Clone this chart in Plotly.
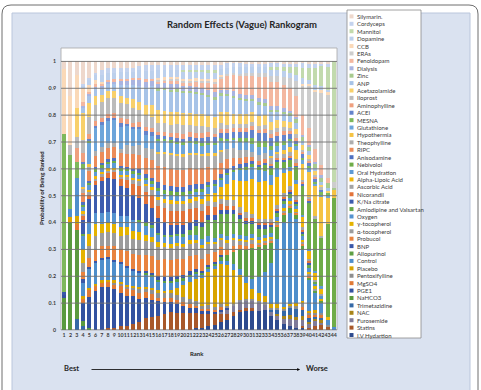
import plotly.graph_objects as go

# ---------------- data (estimated, % share per rank 1..44) ----------------
ranks = list(range(1, 45))
rank_labels = [str(r) for r in ranks]
y_tick_vals = [0, 0.1, 0.2, 0.3, 0.4, 0.5, 0.6, 0.7, 0.8, 0.9, 1.0]
y_tick_text = ["0", "0.1", "0.2", "0.3", "0.4", "0.5", "0.6", "0.7", "0.8", "0.9", "1"]

iv_hydartion = [0,0,0,0,0,0,0,0,0,0, 0,0,0,0,0,0,0,0,0,0, 0,1,1,2,3,4,5,7,9,10, 10,10,10,7,5,3,2,1,1,0, 0,0,0,0]
statins = [0,0,0,0,0,0,0,1,1,2, 2,3,4,6,7,8,9,10,10,10, 10,9,8,7,6,5,3,2,1,1, 1,0,0,0,0,0,0,0,1,1, 2,2,1,0]
furosemide = [0,0,0,0,0,0,0,0,0,0, 0,0,0,0,0,0,0,0,0,0, 0,0,0,0,0,1,2,3,4,4, 4,4,3,2,2,3,4,4,3,2, 2,1,0,0]
nac = [0,0,0,0,0,0,0,0,0,0, 0,0,0,0,0,0,0,0,0,0, 0,0,0,0,0,0,0,0,0,0, 0,0,0,0,1,1,2,2,2,1, 1,1,0,0]
trimetazidine = [0,0,4,2,0,0,0,0,0,0, 0,0,0,0,0,0,0,0,0,0, 0,0,0,0,0,0,0,0,0,0, 0,0,0,1,2,3,4,4,3,2, 1,1,0,0]
nahco3 = [12,40,33,2,1,0,0,0,0,0, 0,0,0,0,0,0,0,0,0,0, 0,0,0,0,0,0,0,0,0,0, 0,0,0,0,0,0,0,0,0,0, 0,0,0,0]
pge1 = [1,0,0,8,13,17,19,18,17,15, 14,13,11,10,9,8,7,6,5,4, 3,3,2,2,1,1,1,0,0,0, 0,0,0,0,0,0,0,0,0,0, 0,0,0,0]
mgso4 = [0,0,2,2,3,2,2,2,2,3, 3,3,3,3,3,2,2,2,2,2, 2,1,1,1,1,1,0,0,0,0, 0,0,0,0,0,0,0,0,1,1, 1,1,0,0]
pentoxifylline = [0,0,0,0,0,0,0,0,1,1, 1,1,2,2,2,3,3,3,3,3, 3,3,2,2,2,2,1,1,1,1, 1,1,1,1,1,1,1,2,2,1, 1,1,1,0]
placebo = [0,2,3,1,1,1,1,1,1,1, 1,1,1,1,1,1,1,2,4,7, 10,13,16,19,21,21,20,17,12,8, 5,4,3,2,2,1,1,1,1,1, 1,0,0,0]
control = [0,3,8,6,8,9,9,9,8,8, 8,7,7,6,6,5,5,4,4,3, 3,3,2,2,2,2,2,3,3,3, 5,8,12,20,32,44,48,44,25,15, 8,4,2,1]
allopurinol = [0,0,0,0,0,0,0,0,0,0, 0,0,0,1,1,1,1,1,1,1, 1,1,1,1,1,2,3,6,10,14, 16,16,14,10,6,4,3,2,2,1, 1,1,0,0]
bnp = [1,0,0,2,1,1,1,1,1,1, 1,1,1,1,1,2,2,2,2,2, 2,2,1,1,1,1,0,0,0,0, 0,0,0,0,0,0,0,0,0,0, 0,0,0,0]
probucol = [0,0,0,3,4,5,5,5,6,6, 7,7,8,8,9,9,10,10,10,9, 9,8,7,6,5,4,3,3,2,2, 2,1,1,1,1,1,1,1,1,1, 0,0,0,0]
alpha_tocopherol = [0,0,0,4,5,6,6,6,6,6, 7,7,7,7,7,7,7,7,7,7, 7,7,6,6,5,4,3,3,2,2, 2,1,1,1,1,1,1,1,1,1, 1,0,0,0]
gamma_tocopherol = [0,0,0,6,5,5,4,4,4,4, 4,4,4,3,3,3,2,2,2,2, 2,2,2,1,1,1,1,1,1,1, 1,1,1,1,1,1,1,1,1,1, 1,1,0,0]
oxygen = [0,0,6,6,5,5,5,5,5,5, 5,5,5,5,5,4,4,4,4,4, 3,3,3,3,2,2,2,2,2,2, 2,2,2,2,2,2,2,2,2,2, 1,1,0,0]
amlodipine_valsartan = [0,0,0,1,0,0,0,0,0,0, 0,0,1,1,1,1,1,1,1,2, 3,5,7,9,10,11,11,10,8,6, 5,4,3,3,2,2,2,1,1,1, 1,0,0,0]
kna_citrate = [0,0,0,6,10,12,14,15,15,14, 13,12,11,10,9,8,7,6,5,5, 4,4,3,3,3,2,2,2,2,2, 2,2,2,1,1,1,1,1,1,1, 0,0,0,0]
nicorandil = [0,0,0,2,2,2,2,2,3,3, 4,5,6,6,7,7,8,8,8,8, 8,7,6,5,4,3,2,2,1,1, 1,1,1,1,1,1,1,1,1,1, 0,0,0,0]
ascorbic_acid = [0,0,0,1,1,1,1,1,1,1, 1,2,2,3,3,3,3,4,4,4, 4,4,4,3,3,3,3,3,3,3, 2,2,2,2,2,2,2,2,1,1, 1,1,0,0]
alpha_lipoic_acid = [0,0,0,1,1,1,1,1,1,1, 1,1,1,1,1,2,2,2,2,2, 2,2,3,4,5,6,8,10,13,16, 18,19,19,17,14,10,8,6,5,4, 3,2,1,0]
oral_hydration = [0,0,0,2,2,2,2,2,2,2, 2,2,2,2,2,3,3,3,3,3, 3,3,4,4,4,4,4,4,5,6, 6,6,5,5,4,3,2,2,1,1, 1,1,0,0]
nebivolol = [0,0,0,1,1,1,1,1,1,1, 1,1,1,1,1,2,2,2,2,2, 2,2,2,1,1,1,1,1,1,1, 2,2,3,3,3,3,4,7,14,22, 24,20,36,48]
anisodamine = [0,0,0,1,1,1,1,1,1,1, 1,1,2,2,2,3,3,3,3,3, 3,3,3,2,2,2,2,2,2,2, 1,1,1,1,1,1,1,1,1,1, 0,0,0,0]
ripc = [0,0,0,4,4,5,5,5,5,6, 6,7,7,8,9,9,10,10,10,10, 10,9,9,8,7,6,5,4,3,3, 2,2,2,1,1,1,1,1,1,1, 0,0,0,0]
theophylline = [0,0,0,2,2,2,2,2,2,2, 4,4,5,5,6,7,8,8,8,8, 8,8,7,7,7,6,5,5,4,4, 3,3,3,3,2,2,2,2,1,1, 1,1,0,0]
hypothermia = [0,0,0,1,1,0,0,0,0,0, 0,0,0,0,0,1,1,1,1,1, 1,1,1,1,1,1,0,0,0,0, 0,0,0,1,1,2,3,5,8,12, 14,16,10,3]
glutathione = [0,0,0,8,9,10,10,10,10,10, 9,8,8,7,7,6,6,6,6,6, 6,6,5,5,5,5,4,4,4,4, 4,4,3,3,3,3,3,2,2,2, 1,1,1,0]
mesna = [59,20,6,2,1,0,0,0,0,0, 0,0,0,0,0,1,1,1,1,1, 1,1,1,1,1,1,1,1,2,2, 3,3,3,2,2,2,1,1,1,1, 1,1,1,0]
acei = [0,0,0,1,1,1,1,1,1,2, 1,1,1,2,2,2,2,2,2,2, 2,2,3,3,3,3,3,3,3,3, 4,4,4,4,3,3,3,2,2,1, 1,1,0,0]
aminophylline = [0,0,5,4,2,2,2,2,2,2, 2,2,2,2,2,2,2,2,3,3, 3,3,3,3,2,2,2,2,2,2, 2,2,2,2,2,2,1,1,1,1, 1,0,0,0]
iloprost = [0,4,4,6,7,7,7,7,7,7, 7,7,6,6,6,5,5,5,5,5, 4,4,4,3,3,3,2,2,2,2, 2,2,2,2,2,2,2,2,1,1, 1,1,0,0]
acetazolamide = [0,0,11,12,6,4,3,3,3,3, 3,4,4,5,6,7,7,7,7,7, 7,7,7,6,6,6,6,5,5,5, 5,5,5,4,4,3,3,3,2,2, 2,1,1,0]
anp = [0,0,0,2,3,3,3,3,3,5, 6,7,8,9,10,11,12,12,12,12, 12,12,11,11,10,9,8,8,7,7, 6,6,5,5,4,4,3,3,2,2, 1,1,1,0]
zinc = [0,0,0,0,0,0,0,0,0,0, 0,0,0,0,0,1,1,1,1,1, 1,1,1,1,1,1,1,1,1,1, 1,1,1,1,1,1,2,2,2,2, 2,2,2,1]
dialysis = [0,0,0,1,1,1,1,1,1,2, 2,2,3,3,3,3,3,3,3,3, 3,3,3,3,3,2,2,2,2,2, 2,2,2,2,2,2,1,1,1,1, 1,1,0,0]
fenoldopam = [0,0,0,2,1,1,1,1,1,1, 1,1,1,1,1,1,1,2,2,2, 2,3,3,4,5,6,7,8,9,10, 10,11,11,12,12,12,12,11,10,8, 6,4,2,0]
eras = [0,0,0,0,0,0,0,0,0,0, 0,0,0,0,0,1,1,1,1,1, 1,1,1,1,1,1,1,1,1,1, 1,2,2,3,3,4,5,8,14,20, 26,30,32,2]
ccb = [24,18,12,6,3,2,1,0,0,0, 0,0,0,0,0,1,1,1,1,1, 1,1,1,1,1,1,0,0,0,0, 0,0,0,0,0,0,0,0,1,1, 1,1,1,0]
dopamine = [0,0,0,1,2,2,3,3,3,3, 3,3,4,4,4,4,4,4,4,4, 4,4,4,4,4,3,3,3,3,3, 3,3,3,3,3,3,3,3,3,2, 2,2,1,0]
mannitol = [0,0,0,0,0,0,0,0,0,0, 0,0,0,0,0,0,0,0,0,1, 1,1,1,1,1,0,0,0,0,0, 0,0,0,1,1,2,3,4,5,6, 8,8,9,45]
cordyceps = [0,0,0,1,1,1,2,2,2,2, 2,2,2,3,3,3,3,3,3,3, 3,3,3,3,3,2,2,2,2,2, 2,2,2,2,2,2,2,2,2,2, 2,1,1,0]
silymarin = [3,13,5,10,7,5,4,3,3,3, 3,3,2,2,2,2,2,2,2,2, 2,2,2,2,2,2,1,1,1,1, 1,1,1,1,1,1,1,1,1,1, 1,1,1,0]

# stacking order: bottom -> top
series = [
    ("I.V Hydartion", iv_hydartion, "#2E4B8E"),
    ("Statins", statins, "#A8582A"),
    ("Furosemide", furosemide, "#7F7B99"),
    ("NAC", nac, "#A88419"),
    ("Trimetazidine", trimetazidine, "#3569A6"),
    ("NaHCO3", nahco3, "#5A9A3F"),
    ("PGE1", pge1, "#3352A0"),
    ("MgSO4", mgso4, "#E07A36"),
    ("Pentoxifylline", pentoxifylline, "#8E8E8E"),
    ("Placebo", placebo, "#D8A400"),
    ("Control", control, "#4E8ECB"),
    ("Allopurinol", allopurinol, "#5E9F44"),
    ("BNP", bnp, "#3A57A8"),
    ("Probucol", probucol, "#E8833F"),
    ("α-tocopherol", alpha_tocopherol, "#9C9C9C"),
    ("γ-tocopherol", gamma_tocopherol, "#E5B300"),
    ("Oxygen", oxygen, "#5593CF"),
    ("Amlodipine and Valsartan", amlodipine_valsartan, "#69A84B"),
    ("K/Na citrate", kna_citrate, "#3D5CAE"),
    ("Nicorandil", nicorandil, "#E2733A"),
    ("Ascorbic Acid", ascorbic_acid, "#A3A3A3"),
    ("Alpha-Lipoic Acid", alpha_lipoic_acid, "#F0B60A"),
    ("Oral Hydration", oral_hydration, "#5E9AD4"),
    ("Nebivolol", nebivolol, "#6FAC48"),
    ("Anisodamine", anisodamine, "#5070C0"),
    ("RIPC", ripc, "#EB8C5A"),
    ("Theophylline", theophylline, "#ADADAD"),
    ("Hypothermia", hypothermia, "#F5C343"),
    ("Glutathione", glutathione, "#6DA5DA"),
    ("MESNA", mesna, "#7EB85B"),
    ("ACEI", acei, "#6584CB"),
    ("Aminophylline", aminophylline, "#EFA07F"),
    ("Iloprost", iloprost, "#BBBBBB"),
    ("Acetazolamide", acetazolamide, "#F8D06A"),
    ("ANP", anp, "#A7C3E7"),
    ("Zinc", zinc, "#A8CA8E"),
    ("Dialysis", dialysis, "#A9B4E0"),
    ("Fenoldopam", fenoldopam, "#F3B7A0"),
    ("ERAs", eras, "#CDCDCD"),
    ("CCB", ccb, "#FAD9B8"),
    ("Dopamine", dopamine, "#BCD0EC"),
    ("Mannitol", mannitol, "#C2DAAD"),
    ("Cordyceps", cordyceps, "#C4D3EE"),
    ("Silymarin.", silymarin, "#EED8CC"),
]

totals = [sum(s[1][i] for s in series) for i in range(len(ranks))]

# ---------------- geometry helpers (pixel -> paper) ----------------
W_FIG, H_FIG = 481, 390
L, R, T, B = 61, 337, 48, 330
PW, PH = R - L, B - T


def px(x):
    return (x - L) / PW


def py(y):
    return (B - y) / PH


FONT = "Lato, 'Open Sans', sans-serif"
TXT = "#3A3A3A"

fig = go.Figure()
for name, vals, col in series:
    fig.add_trace(go.Bar(
        x=ranks, y=[v / t for v, t in zip(vals, totals)], name=name,
        marker=dict(color=col, line=dict(width=0)), showlegend=False,
        hovertemplate=name + " rank %{x}: %{y:.2f}<extra></extra>"))

shapes = []


def rounded(x0, y0, x1, y1, r, fill, line_col, lw):
    rx, ry = r / PW, r / PH
    X0, X1, Y0, Y1 = px(x0), px(x1), py(y0), py(y1)
    path = (f"M {X0+rx},{Y0} L {X1-rx},{Y0} Q {X1},{Y0} {X1},{Y0-ry} "
            f"L {X1},{Y1+ry} Q {X1},{Y1} {X1-rx},{Y1} L {X0+rx},{Y1} "
            f"Q {X0},{Y1} {X0},{Y1+ry} L {X0},{Y0-ry} Q {X0},{Y0} {X0+rx},{Y0} Z")
    return dict(type="path", xref="paper", yref="paper", path=path, fillcolor=fill,
                line=dict(color=line_col, width=lw), layer="below")


shapes.append(rounded(2, 5, 478, 400, 9, "white", "#6E6E6E", 1))
shapes.append(dict(type="rect", xref="paper", yref="paper", x0=px(12), x1=px(470), y0=py(13), y1=py(395),
                   fillcolor="#DAE2F0", line=dict(color="#BAC6DC", width=1), layer="below"))
shapes.append(dict(type="rect", xref="paper", yref="paper", x0=0, x1=1, y0=0, y1=1,
                   fillcolor="white", line=dict(color="#A6A6A6", width=0.8), layer="below"))
for v in y_tick_vals:
    shapes.append(dict(type="line", xref="paper", yref="y", x0=0, x1=1, y0=v, y1=v,
                       line=dict(color="#727272", width=0.9), layer="above"))

shapes.append(dict(type="rect", xref="paper", yref="paper", x0=px(347), x1=px(421), y0=py(10), y1=py(338),
                   fillcolor="white", line=dict(color="#8C8C8C", width=0.8), layer="below"))

annotations = []
legend_order = list(reversed(series))
for i, (name, _, col) in enumerate(legend_order):
    yc = 16.4 + i * 7.41
    shapes.append(dict(type="rect", xref="paper", yref="paper", x0=px(349.5), x1=px(353.5),
                       y0=py(yc + 2), y1=py(yc - 2), fillcolor=col, line=dict(width=0), layer="below"))
    annotations.append(dict(text=name, xref="paper", yref="paper", x=px(355), y=py(yc),
                            xanchor="left", yanchor="middle", showarrow=False,
                            font=dict(family=FONT, size=6, color=TXT)))

annotations += [
    dict(text="Random Effects (Vague) Rankogram", xref="paper", yref="paper", x=px(242), y=py(24),
         xanchor="center", yanchor="middle", showarrow=False,
         font=dict(family=FONT, size=9.5, color="#262626", weight="bold")),
    dict(text="Probability of Being Ranked", xref="paper", yref="paper", x=px(41), y=py(188),
         xanchor="center", yanchor="middle", textangle=-90, showarrow=False,
         font=dict(family=FONT, size=6, color="#262626", weight="bold")),
    dict(text="Rank", xref="paper", yref="paper", x=px(197), y=py(353),
         xanchor="center", yanchor="middle", showarrow=False,
         font=dict(family=FONT, size=6, color="#262626", weight="bold")),
    dict(text="Best", xref="paper", yref="paper", x=px(71.5), y=py(368),
         xanchor="center", yanchor="middle", showarrow=False,
         font=dict(family=FONT, size=7.5, color="#262626", weight="bold")),
    dict(text="Worse", xref="paper", yref="paper", x=px(317), y=py(368),
         xanchor="center", yanchor="middle", showarrow=False,
         font=dict(family=FONT, size=7.5, color="#262626", weight="bold")),
    dict(text="", xref="paper", yref="paper", x=px(300), y=py(369.5),
         ax=-210, ay=0, axref="pixel", ayref="pixel", showarrow=True,
         arrowhead=2, arrowsize=0.7, arrowwidth=0.8, arrowcolor="#000000"),
]

fig.update_layout(
    width=W_FIG, height=H_FIG,
    margin=dict(l=L, r=W_FIG - R, t=T, b=H_FIG - B, pad=0),
    paper_bgcolor="white", plot_bgcolor="rgba(0,0,0,0)",
    barmode="stack", bargap=0.38,
    shapes=shapes, annotations=annotations,
    showlegend=False,
    font=dict(family=FONT, color=TXT),
    xaxis=dict(range=[0.5, 44.5], tickmode="array", tickvals=ranks, ticktext=rank_labels,
               showgrid=False, zeroline=False, showline=False, ticks="",
               tickfont=dict(family=FONT, size=5.3, color=TXT, weight="bold"), tickangle=0,
               ticklabelstandoff=1),
    yaxis=dict(range=[0, 1.05], tickmode="array", tickvals=y_tick_vals, ticktext=y_tick_text,
               showgrid=False, zeroline=False, showline=False, ticks="",
               tickfont=dict(family=FONT, size=5.3, color=TXT, weight="bold"),
               ticklabelstandoff=4),
)

fig.write_html("out.html")
